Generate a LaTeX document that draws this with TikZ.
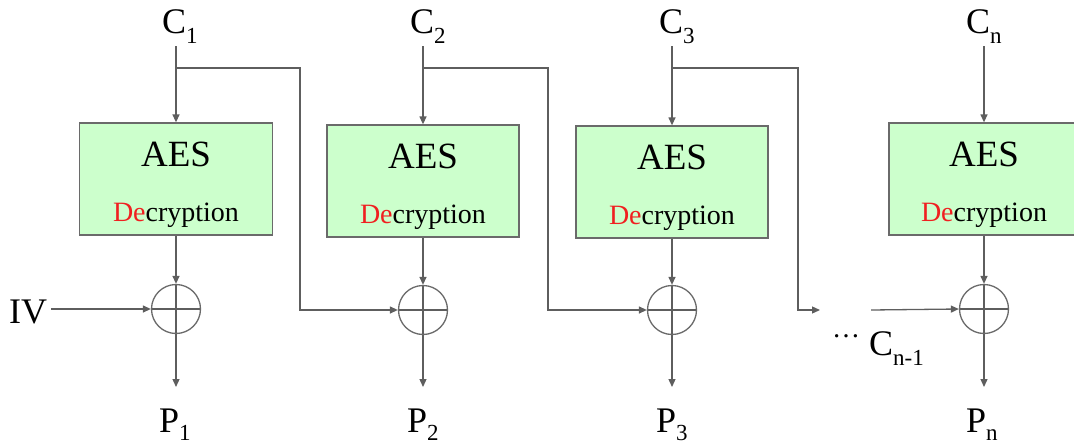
\documentclass[tikz,border=0pt]{standalone}
\usepackage{fontspec}
\setmainfont{Liberation Serif}
\newfontfamily\tms{Liberation Serif}
\usetikzlibrary{arrows.meta}
\definecolor{boxfill}{HTML}{CCFFCC}
\definecolor{boxline}{HTML}{6A6A6A}
\definecolor{wire}{HTML}{5E5E5E}
\definecolor{dered}{HTML}{F02020}
\newcommand\sbs[2][-9pt]{\raisebox{#1}{\tms\fontsize{23}{23}\selectfont #2}}
\tikzset{
  lbl/.style={inner sep=0pt, anchor=base west, font=\tms\fontsize{36}{36}\selectfont},
  aesbox/.style={draw=boxline, fill=boxfill, line width=1.3pt, minimum width=#1, minimum height=112pt, inner sep=0pt},
  aestxt/.style={inner sep=0pt, anchor=base, font=\tms\fontsize{37}{37}\selectfont},
  dectxt/.style={inner sep=0pt, anchor=base, font=\tms\fontsize{28}{28}\selectfont},
  xor/.style={circle, draw=boxline, line width=1.3pt, minimum size=49pt, inner sep=0pt,
    path picture={\draw[wire, line width=1.3pt] (path picture bounding box.north) -- (path picture bounding box.south)
      (path picture bounding box.west) -- (path picture bounding box.east);}},
  ln/.style={draw=wire, line width=1.3pt},
  arr/.style={ln, -{Triangle[length=8pt, width=7pt]}},
}
\begin{document}
\begin{tikzpicture}[x=1pt, y=-1pt]
\useasboundingbox (0,0) rectangle (1074,445);
\clip (0,0) rectangle (1074,445);
% top labels
\node[lbl] (c1) at (162,33) {C\sbs[-10pt]{1}};
\node[lbl] (c2) at (410,33) {C\sbs[-10pt]{2}};
\node[lbl] (c3) at (659,33) {C\sbs[-10pt]{3}};
\node[lbl] (cn) at (966,33) {C\sbs[-10pt]{n}};
% boxes
\node[aesbox=193pt] (b1) at (176,179) {};
\node[aesbox=192pt] (b2) at (423,181) {};
\node[aesbox=192pt] (b3) at (672,182) {};
\node[aesbox=190pt] (b4) at (984,179) {};
\foreach \b in {b1,b2,b3,b4}{
  \node[aestxt] (\b a) at ([yshift=-44pt]\b.north) {AES};
  \node[dectxt] (\b d) at ([yshift=-99pt]\b.north) {\textcolor{dered}{De}cryption};
}
% xor
\node[xor] (x1) at (176,309) {};
\node[xor] (x2) at (423,310) {};
\node[xor] (x3) at (672,310) {};
\node[xor] (x4) at (984,309) {};
% bottom labels
\node[lbl] (p1) at (159,432) {P\sbs[-8pt]{1}};
\node[lbl] (p2) at (407,432) {P\sbs[-8pt]{2}};
\node[lbl] (p3) at (656,432) {P\sbs[-8pt]{3}};
\node[lbl] (pn) at (966,432) {P\sbs[-8pt]{n}};
\node[lbl] (iv) at (9,323) {IV};
\node[lbl] (cm) at (869,355) {C\sbs[-10pt]{n-1}};
\node[inner sep=0pt, anchor=base, font=\tms\fontsize{28}{28}\selectfont] (dots) at (846,337) {…};
% coordinates
\foreach \i/\x in {1/176,2/423,3/672,4/984}{
  \coordinate (s\i) at (\x,46);
  \coordinate (j\i) at (\x,68);
  \coordinate (o\i) at (\x,387);
}
\coordinate (k1) at (300,68);
\coordinate (k2) at (548,68);
\coordinate (k3) at (798,68);
\coordinate (e3) at (820,310);
\coordinate (e4) at (871,310);
\coordinate (ivs) at (51,309);
% connectors
\draw[arr] (s1) -- (b1.north);
\draw[arr] (s2) -- (b2.north);
\draw[arr] (s3) -- (b3.north);
\draw[arr] (s4) -- (b4.north);
\draw[arr] (b1.south) -- (x1.north);
\draw[arr] (b2.south) -- (x2.north);
\draw[arr] (b3.south) -- (x3.north);
\draw[arr] (b4.south) -- (x4.north);
\draw[arr] (x1.south) -- (o1);
\draw[arr] (x2.south) -- (o2);
\draw[arr] (x3.south) -- (o3);
\draw[arr] (x4.south) -- (o4);
\draw[arr] (ivs) -- (x1.west);
\draw[arr] (j1) -- (k1) |- (x2.west);
\draw[arr] (j2) -- (k2) |- (x3.west);
\draw[arr] (j3) -- (k3) |- (e3);
\draw[arr] (e4) -- (x4.west);
\end{tikzpicture}
\end{document}
